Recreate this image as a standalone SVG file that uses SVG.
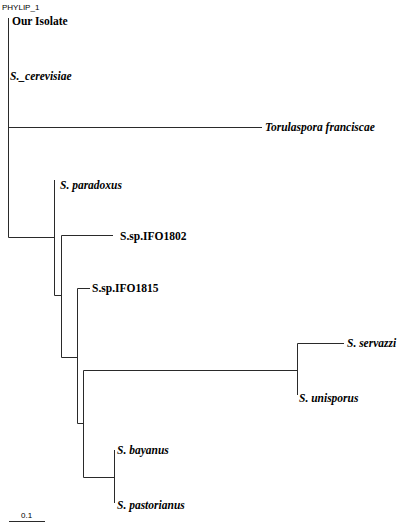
<svg xmlns="http://www.w3.org/2000/svg" width="400" height="528" viewBox="0 0 400 528">
<style>
.e{stroke:#2a2a2a;stroke-width:1;fill:none}
.t{font-family:"Liberation Serif",serif;font-weight:bold;font-size:11.5px;fill:#000}
.i{font-style:italic}
.s{font-family:"Liberation Sans",sans-serif;font-size:8px;fill:#000}
</style>
<rect width="400" height="528" fill="#fff"/>
<text class="s" x="2" y="10">PHYLIP_1</text>
<g id="edges">
<path class="e" d="M8.5,18V237.5H54.5"/>
<path class="e" d="M8.5,127.5H262"/>
<path class="e" d="M54.5,180V295.5H61.5"/>
<path class="e" d="M61.5,235.5V357.5H77.5"/>
<path class="e" d="M61.5,235.5H113"/>
<path class="e" d="M77.5,288.5V423.5H83.5"/>
<path class="e" d="M77.5,288.5H90"/>
<path class="e" d="M83.5,370.5V477.5H114.5"/>
<path class="e" d="M83.5,370.5H297.5"/>
<path class="e" d="M297.5,343.5V395"/>
<path class="e" d="M297.5,343.5H344"/>
<path class="e" d="M114.5,450V503"/>
</g>
<g id="n1"><text class="t" x="12" y="25">Our Isolate</text></g>
<g id="n2"><text class="t i" x="10" y="80">S._cerevisiae</text></g>
<g id="n3"><text class="t i" x="265" y="131">Torulaspora franciscae</text></g>
<g id="n4"><text class="t i" x="60" y="189">S. paradoxus</text></g>
<g id="n5"><text class="t" x="120" y="240">S.sp.IFO1802</text></g>
<g id="n6"><text class="t" x="92" y="292">S.sp.IFO1815</text></g>
<g id="n7"><text class="t i" x="347" y="347">S. servazzi</text></g>
<g id="n8"><text class="t i" x="299" y="402">S. unisporus</text></g>
<g id="n9"><text class="t i" x="117" y="454">S. bayanus</text></g>
<g id="n10"><text class="t i" x="117" y="509">S. pastorianus</text></g>
<g id="scale">
<path class="e" d="M9,521.5H45"/>
<text class="s" x="21" y="518">0.1</text>
</g>
</svg>
